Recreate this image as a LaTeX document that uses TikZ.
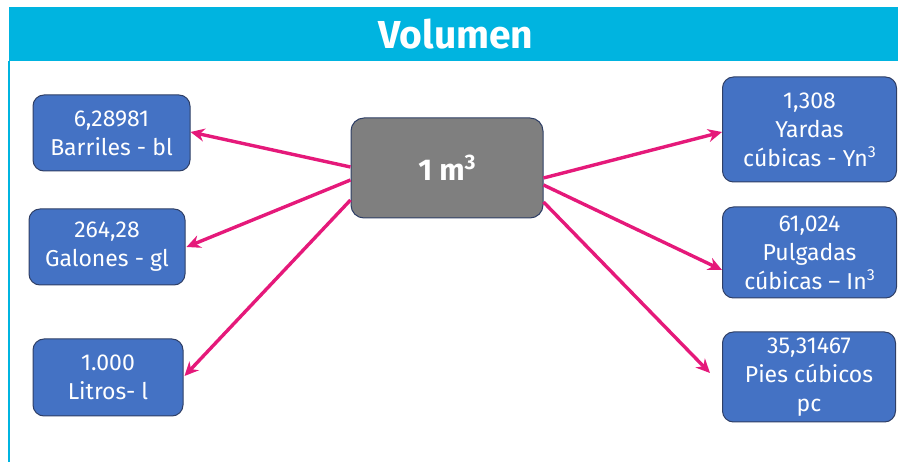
\documentclass[tikz,border=0pt]{standalone}
\usepackage{fontspec}
\setmainfont{Fira Sans}
\usetikzlibrary{arrows.meta,calc}
\definecolor{hdr}{HTML}{00B4E0}
\definecolor{boxblue}{HTML}{4472C4}
\definecolor{boxedge}{HTML}{2F3F66}
\definecolor{midgray}{HTML}{7F7F7F}
\definecolor{arr}{HTML}{E5197A}
\newcommand{\cubed}{\raisebox{0.38em}{\fontsize{16}{16}\selectfont 3}}
\tikzset{
  valbox/.style={draw=boxedge, line width=1pt, fill=boxblue, rounded corners=11pt,
    text=white, align=center, inner sep=0pt, font=\fontsize{23}{29}\selectfont},
  centerbox/.style={draw=boxedge, line width=1pt, fill=midgray, rounded corners=13pt,
    text=white, align=center, inner sep=0pt, font=\fontsize{30}{34}\selectfont\bfseries},
  conv/.style={draw=arr, line width=3.4pt, -{Stealth[length=14pt,width=13pt]}}
}
\begin{document}
\begin{tikzpicture}[x=1pt,y=-1pt]
\useasboundingbox (0,0) rectangle (898,462);
% header band and left rule
\fill[hdr] (9,7) rectangle (898,61);
\draw[hdr, line width=1.2pt] (9,61) -- (9,462);
\node (title) at (456,34) {\fontsize{39}{44}\selectfont\bfseries\color{white}Volumen};
% nodes
\node[centerbox, minimum width=192pt, minimum height=100pt] (c) at (447,168) {1 m\raisebox{0.38em}{\fontsize{21}{21}\selectfont 3}};
\node[valbox, minimum width=157pt, minimum height=76pt] (bl) at (111.5,133) {6,28981\\Barriles - bl};
\node[valbox, minimum width=156pt, minimum height=76pt] (gl) at (107,247) {264,28\\Galones - gl};
\node[valbox, minimum width=150pt, minimum height=77pt] (lt) at (108,377.5) {1.000\\Litros- l};
\node[valbox, minimum width=174pt, minimum height=105pt] (yd) at (809.5,129.5) {1,308\\Yardas\\cúbicas - Yn\cubed};
\node[valbox, minimum width=174pt, minimum height=91pt] (pg) at (809.5,252.5) {61,024\\Pulgadas\\cúbicas – In\cubed};
\node[valbox, minimum width=173pt, minimum height=90pt] (pc) at (809,377) {35,31467\\Pies cúbicos\\pc};
% connectors
\draw[conv] ([yshift=1pt]c.west) -- ([yshift=1pt]bl.east);
\draw[conv] ([yshift=-12pt]c.west) -- ([xshift=1pt]gl.east);
\draw[conv] ([yshift=-32pt]c.west) -- ([xshift=1pt,yshift=1.5pt]lt.east);
\draw[conv] ([yshift=-10pt]c.east) -- ([yshift=-2.5pt]yd.west);
\draw[conv] ([yshift=-17pt]c.east) -- ([yshift=-17.5pt]pg.west);
\draw[conv] ([yshift=-34pt]c.east) -- ([xshift=-12pt,yshift=4pt]pc.west);
\end{tikzpicture}
\end{document}
